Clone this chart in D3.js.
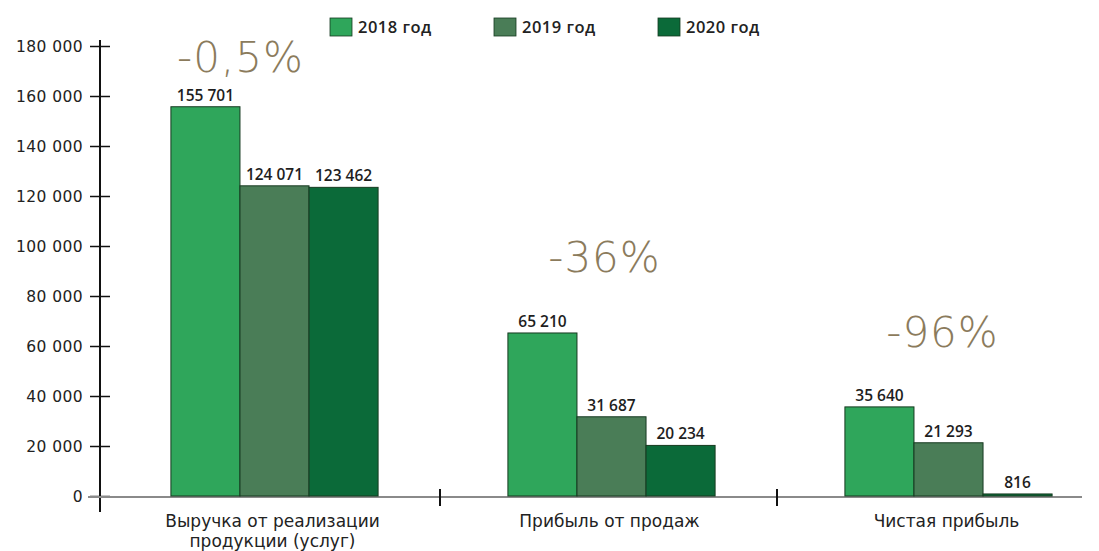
<!DOCTYPE html>
<html lang="ru">
<head>
  <meta charset="UTF-8" />
  <script src="https://d3js.org/d3.v7.min.js"></script>
  <title>Выручка и прибыль</title>
  <style>
    body { margin: 0; background: #fff; }
    text { font-family: "Open Sans", "DejaVu Sans", sans-serif; }
  </style>
</head>
<body>
<script type="text/javascript">
var width = 1099;
var height = 551;

// данные
var categories = [["Выручка от реализации", "продукции (услуг)"], ["Прибыль от продаж"], ["Чистая прибыль"]];
var years = ["2018 год", "2019 год", "2020 год"];
var v2018 = [155701, 65210, 35640];
var v2019 = [124071, 31687, 21293];
var v2020 = [123462, 20234, 816];
var changes = ["-0,5%", "-36%", "-96%"];
var yTicks = [0, 20000, 40000, 60000, 80000, 100000, 120000, 140000, 160000, 180000];
var colors = ["#2fa65b", "#4a7d57", "#0b6a39"];

var series = [v2018, v2019, v2020];
var svg = d3.select("body").append("svg").attr("width", width).attr("height", height);

var x0 = d3.scaleBand().domain(d3.range(categories.length)).range([106, 1117]).padding(0);
var x1 = d3.scaleBand().domain(d3.range(years.length)).range([0, x0.bandwidth()]).paddingOuter(0.94).paddingInner(0);
var y = d3.scaleLinear().domain([0, 180000]).range([496, 46]);

var fmt = function(v){ return d3.format(",")(v).replace(/,/g, " "); };

// ось Y
var yAxis = svg.append("g").attr("transform", "translate(100,0)")
  .call(d3.axisLeft(y).tickValues(yTicks).tickSize(10).tickFormat(fmt));
yAxis.select(".domain").remove();
yAxis.selectAll(".tick line").attr("x1", 10).attr("x2", -10).attr("stroke", "#111").attr("stroke-width", 1.5);
yAxis.selectAll(".tick text").attr("x", -17).attr("dy", "0.35em")
  .style("font-family", "'DejaVu Sans', sans-serif").style("font-size", "15.5px")
  .style("letter-spacing", "0.4px").attr("fill", "#222");
svg.append("line").attr("x1", 100).attr("x2", 100).attr("y1", 40).attr("y2", 512)
  .attr("stroke", "#111").attr("stroke-width", 2);

// базовая линия
svg.append("line").attr("x1", 88).attr("x2", 1082).attr("y1", y(0) + 1).attr("y2", y(0) + 1)
  .attr("stroke", "#8a8a8a").attr("stroke-width", 2);
svg.selectAll(".sep").data([1, 2]).enter().append("line")
  .attr("x1", function(d){ return x0(d) - 3; }).attr("x2", function(d){ return x0(d) - 3; })
  .attr("y1", y(0) - 7).attr("y2", y(0) + 10).attr("stroke", "#111").attr("stroke-width", 2);

// положение подписей изменений
var chgDx = [-34, -7, -6];
var chgY = [72, 272, 347];

// столбцы
var groups = svg.selectAll(".grp").data(categories).enter().append("g")
  .attr("transform", function(d, i){ return "translate(" + x0(i) + ",0)"; });

groups.each(function(c, ci){
  var g = d3.select(this);
  series.forEach(function(s, si){
    g.append("rect")
      .attr("x", x1(si)).attr("width", x1.bandwidth())
      .attr("y", y(s[ci])).attr("height", y(0) - y(s[ci]))
      .attr("fill", colors[si]).attr("stroke", "#163a20").attr("stroke-width", 1);
    g.append("text")
      .attr("x", x1(si) + x1.bandwidth() / 2).attr("y", y(s[ci]) - 6)
      .attr("text-anchor", "middle").style("font-size", "15.5px").style("font-weight", 600)
      .attr("fill", "#1e1e1e").text(fmt(s[ci]));
  });
  g.append("text")
    .attr("x", x0.bandwidth() / 2 + chgDx[ci]).attr("y", chgY[ci])
    .attr("text-anchor", "middle")
    .style("font-family", "'DejaVu Sans', sans-serif").style("font-size", "42px").style("font-weight", 200)
    .style("letter-spacing", "1px").attr("fill", "#8b7b5c").text(changes[ci]);
  var lab = g.append("text").attr("text-anchor", "middle")
    .style("font-family", "'DejaVu Sans', sans-serif").style("font-size", "17px").attr("fill", "#222");
  c.forEach(function(line, li){
    lab.append("tspan").attr("x", x0.bandwidth() / 2 - 2).attr("y", 527 + li * 20).text(line);
  });
});

// легенда
var leg = svg.selectAll(".leg").data(years).enter().append("g")
  .attr("transform", function(d, i){ return "translate(" + (330 + i * 164) + ",18)"; });
leg.append("rect").attr("width", 22).attr("height", 18)
  .attr("fill", function(d, i){ return colors[i]; }).attr("stroke", "#163a20").attr("stroke-width", 0.8);
leg.append("text").attr("x", 28).attr("y", 15).style("font-size", "16.5px").style("font-weight", 600)
  .style("letter-spacing", "0.5px").attr("fill", "#222").text(function(d){ return d; });
</script>
</body>
</html>
